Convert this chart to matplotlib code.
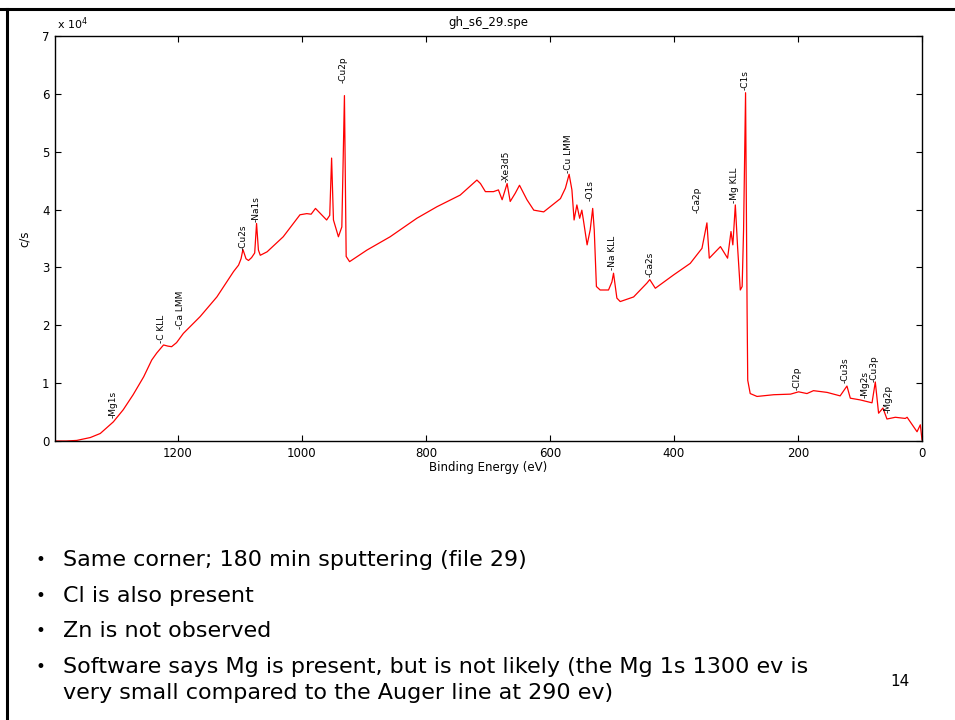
import matplotlib
matplotlib.use("Agg")
import matplotlib.pyplot as plt
from matplotlib.lines import Line2D

plt.rcParams['font.family'] = ['DejaVu Sans']

# ---- data (binding energy in eV, intensity in units of 1e4 c/s) ----
binding_energy = [1398, 1380, 1363, 1341, 1325, 1304, 1288, 1272, 1255, 1242, 1234, 1223,
                  1216, 1210, 1202, 1191, 1164, 1137, 1110, 1102, 1098, 1095, 1090, 1086,
                  1081, 1076, 1073, 1070, 1067, 1056, 1030, 1003, 992, 985, 978, 970, 960,
                  955, 952, 949, 941, 935.5, 931.3, 928.5, 923, 895, 857.6, 814.5, 782,
                  744.7, 717.7, 712, 704, 691, 683, 677, 669, 664, 656, 649, 637, 626, 610,
                  583, 575, 569, 564.5, 561, 556.5, 552, 548.5, 546, 540, 535, 531, 528.5,
                  525, 519, 505.5, 500, 497.4, 492, 486.6, 465, 443.5, 439, 430, 400.6,
                  373.7, 354.8, 346.8, 343, 335, 325, 313.5, 308, 305, 301, 297.4, 293, 290,
                  287.7, 284.5, 282, 281, 277, 266, 239, 212, 199, 185.5, 175, 153, 132,
                  121, 115.6, 99.5, 80.6, 75.3, 70, 63, 56.5, 43, 27, 24, 8, 2.7, 0]
intensity = [0.00, 0.00, 0.01, 0.06, 0.13, 0.33, 0.54, 0.80, 1.11, 1.40, 1.52, 1.66,
             1.64, 1.63, 1.70, 1.86, 2.15, 2.49, 2.93, 3.04, 3.15, 3.31, 3.15, 3.12,
             3.17, 3.25, 3.76, 3.30, 3.21, 3.27, 3.53, 3.91, 3.93, 3.92, 4.02, 3.93, 3.82,
             3.90, 4.89, 3.82, 3.53, 3.70, 5.97, 3.19, 3.10, 3.30, 3.53, 3.85, 4.05,
             4.25, 4.51, 4.45, 4.31, 4.31, 4.34, 4.17, 4.45, 4.14, 4.28, 4.42, 4.17, 3.99, 3.96,
             4.19, 4.37, 4.61, 4.34, 3.82, 4.08, 3.85, 3.99, 3.82, 3.39, 3.65, 4.02, 3.65,
             2.67, 2.61, 2.61, 2.75, 2.90, 2.47, 2.41, 2.49, 2.73, 2.79, 2.64, 2.87,
             3.07, 3.33, 3.77, 3.16, 3.25, 3.36, 3.16, 3.62, 3.39, 4.08, 3.36, 2.61, 2.67,
             3.65, 6.02, 2.21, 1.05, 0.82, 0.77, 0.80, 0.81, 0.85, 0.82, 0.87, 0.84, 0.78,
             0.95, 0.74, 0.71, 0.66, 1.02, 0.48, 0.57, 0.38, 0.41, 0.39, 0.41, 0.16, 0.28, 0.02]

peak_names = ['Mg1s', 'C KLL', 'Ca LMM', 'Cu2s', 'Na1s', 'Cu2p', 'Xe3d5', 'Cu LMM', 'O1s',
              'Na KLL', 'Ca2s', 'Ca2p', 'Mg KLL', 'C1s', 'Cl2p', 'Cu3s', 'Mg2s', 'Cu3p', 'Mg2p']
peak_be = [1304, 1226, 1196, 1095, 1073, 933, 670, 570, 535,
           499, 439, 362, 302, 285, 201.6, 124, 92.6, 76.5, 54]
peak_label_y = [0.40, 1.69, 1.93, 3.30, 3.79, 6.18, 4.48, 4.63, 4.14,
                2.96, 2.84, 3.94, 4.11, 6.07, 0.88, 1.00, 0.74, 1.02, 0.48]

x_ticks = [1200, 1000, 800, 600, 400, 200, 0]
y_ticks = [0, 1, 2, 3, 4, 5, 6, 7]

bullets = ["Same corner; 180 min sputtering (file 29)",
           "Cl is also present",
           "Zn is not observed",
           "Software says Mg is present, but is not likely (the Mg 1s 1300 ev is"]
bullet_continuation = "very small compared to the Auger line at 290 ev)"

W, H = 955, 720
fig = plt.figure(figsize=(W / 100, H / 100), dpi=100)
fig.patch.set_facecolor('white')

# slide frame (top and left edges)
fig.add_artist(Line2D([0, 1], [1 - 9 / H, 1 - 9 / H], color='black', lw=2.2,
                      transform=fig.transFigure))
fig.add_artist(Line2D([7 / W, 7 / W], [0, 1 - 9 / H], color='black', lw=2.2,
                      transform=fig.transFigure))

ax_l, ax_r, ax_t, ax_b = 55, 922, 36, 441
ax = fig.add_axes([ax_l / W, 1 - ax_b / H, (ax_r - ax_l) / W, (ax_b - ax_t) / H])
ax.plot(binding_energy, intensity, color='red', lw=0.9)
ax.set_xlim(1398, 0)
ax.set_ylim(0, 7)
ax.set_xticks(x_ticks)
ax.set_yticks(y_ticks)
ax.tick_params(direction='in', length=4.5, width=0.8, top=True, right=True,
               labelsize=8.5, pad=4)
for s in ax.spines.values():
    s.set_linewidth(1.0)

for name, be, yy in zip(peak_names, peak_be, peak_label_y):
    ax.text(be, yy, '-' + name, rotation=90, ha='center', va='bottom',
            fontsize=6.5, color='black')

ax.set_xlabel('Binding Energy (eV)', fontsize=8.5, labelpad=1)
ax.set_ylabel('c/s', fontsize=8.5, labelpad=8)
ax.set_title('gh_s6_29.spe', fontsize=8.5, pad=7)
fig.text(57 / W, 1 - 24 / H, r'x 10$^{4}$', fontsize=8, ha='left', va='center')

# bullet text
bullet_y = [560, 596, 631, 667]
for txt, yy in zip(bullets, bullet_y):
    fig.text(35 / W, 1 - yy / H, '•', fontsize=12, ha='left', va='center')
    fig.text(63 / W, 1 - yy / H, txt, fontsize=16, ha='left', va='center')
fig.text(63 / W, 1 - 693 / H, bullet_continuation, fontsize=16, ha='left', va='center')
fig.text(900 / W, 1 - 682 / H, '14', fontsize=11, ha='center', va='center')

fig.savefig('out.png', dpi=100)
